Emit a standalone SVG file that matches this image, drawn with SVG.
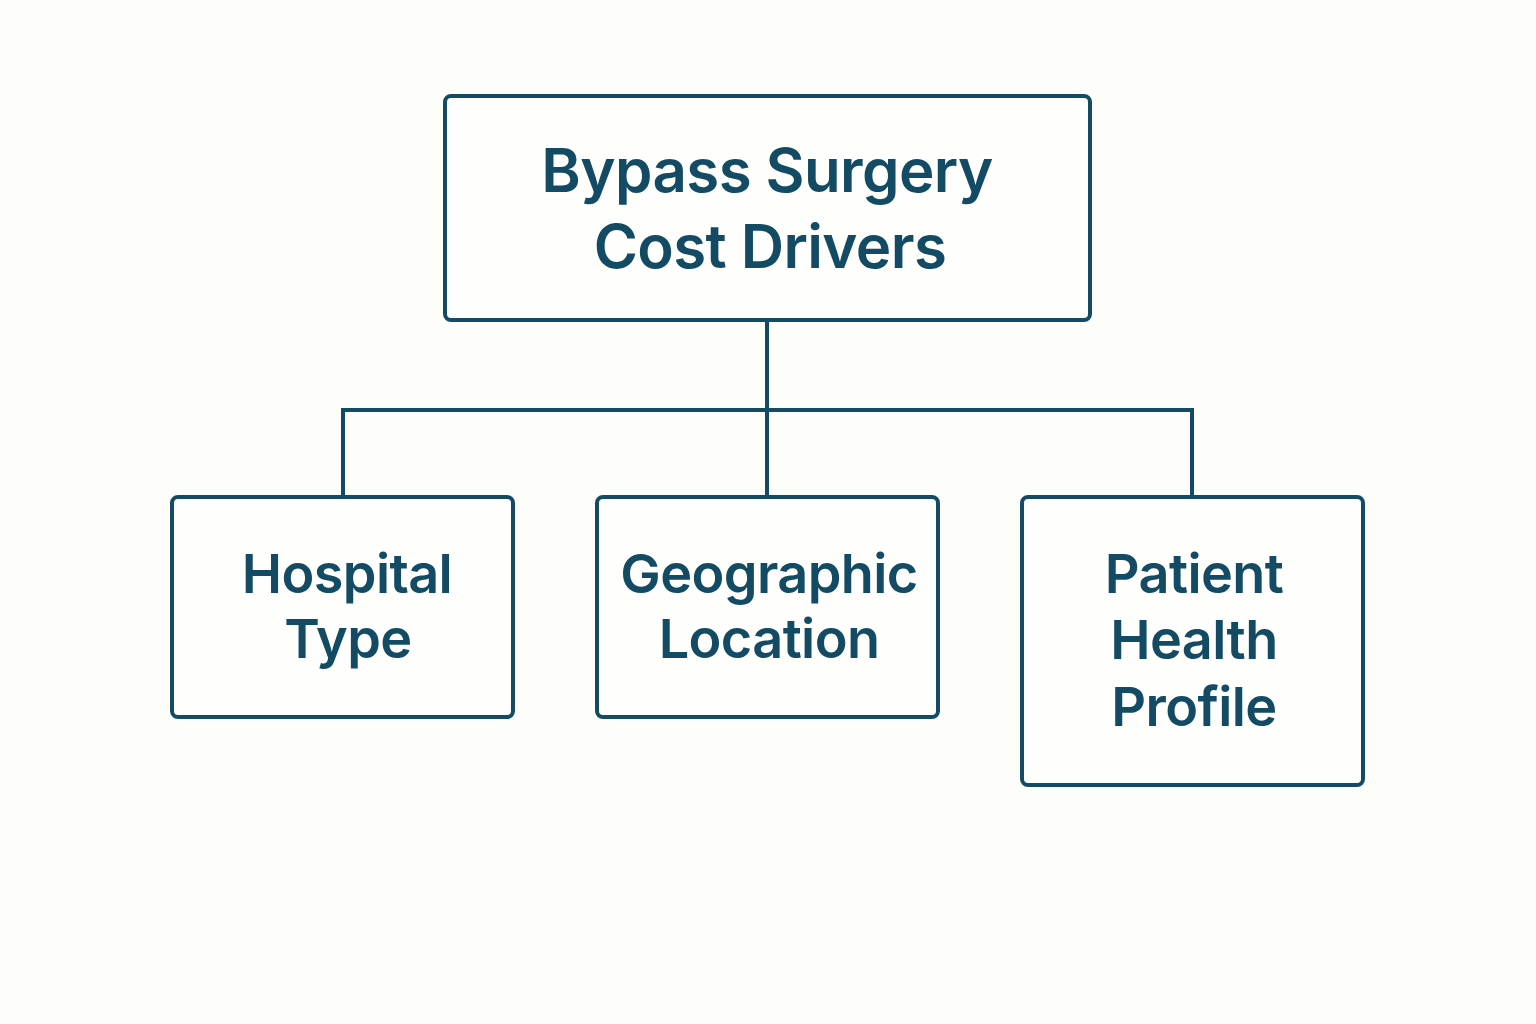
<svg xmlns="http://www.w3.org/2000/svg" width="1536" height="1024" viewBox="0 0 1536 1024">
<style>
.box{fill:#fefefc;stroke:#134b65;stroke-width:4}
.conn{fill:none;stroke:#134b65;stroke-width:4}
text{font-family:Inter,"Noto Sans",sans-serif;fill:#134b65;text-anchor:middle;font-weight:600}
.t1{font-size:60px;letter-spacing:-0.6px}
.t2{font-size:54px;letter-spacing:-0.6px}
</style>
<rect width="1536" height="1024" fill="#fdfdfa"/>
<g id="connectors">
<path class="conn" d="M767 320 V410 M343 497 V410 H1192 V497 M767 410 V497"/>
</g>
<g id="root">
<rect class="box" x="445" y="96" width="645" height="224" rx="6"/>
<text class="t1" x="767" y="192">Bypass Surgery</text>
<text class="t1" x="770" y="268">Cost Drivers</text>
</g>
<g id="hospital">
<rect class="box" x="172" y="497" width="341" height="220" rx="6"/>
<text class="t2" x="347" y="593">Hospital</text>
<text class="t2" x="348" y="658">Type</text>
</g>
<g id="geo">
<rect class="box" x="597" y="497" width="341" height="220" rx="6"/>
<text class="t2" x="769" y="593">Geographic</text>
<text class="t2" x="769" y="658">Location</text>
</g>
<g id="patient">
<rect class="box" x="1022" y="497" width="341" height="288" rx="6"/>
<text class="t2" x="1194" y="593">Patient</text>
<text class="t2" x="1194" y="659">Health</text>
<text class="t2" x="1194" y="726">Profile</text>
</g>
</svg>
